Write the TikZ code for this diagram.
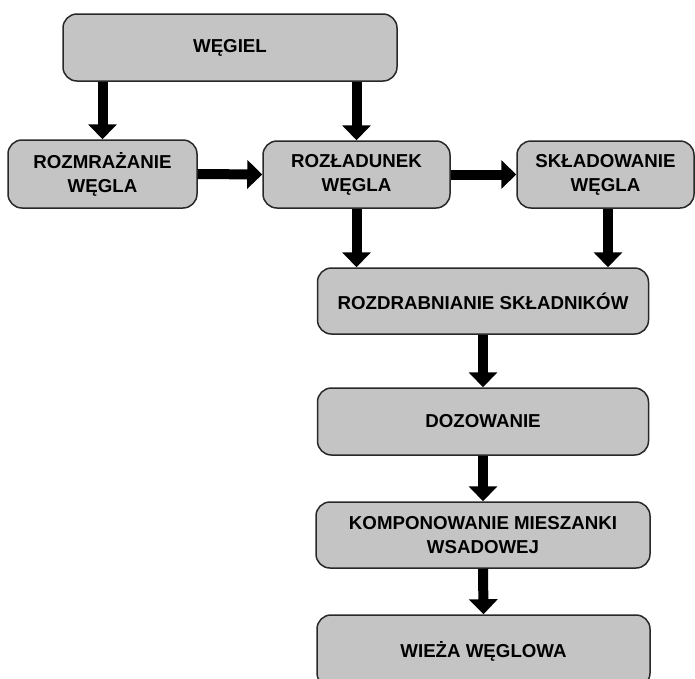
\documentclass[tikz,border=0pt]{standalone}
\usepackage{fontspec}
\setmainfont{Liberation Sans}
\usetikzlibrary{arrows.meta}
\definecolor{boxgray}{RGB}{196,196,196}
\definecolor{boxline}{RGB}{40,40,40}
\tikzset{
  stage/.style={draw=boxline, line width=1.5pt, fill=boxgray, rounded corners=14pt,
    inner sep=0pt, align=center, font=\fontsize{18.7}{24}\selectfont\bfseries},
  flow/.style={line width=10pt, -{Triangle[length=15pt,width=28pt]}}
}
\begin{document}
\begin{tikzpicture}[x=1pt,y=-1pt]
\useasboundingbox (0,0) rectangle (695,678);

\node[stage, minimum width=334pt, minimum height=67pt] (wegiel) at (230,47.5) {WĘGIEL};
\node[stage, minimum width=189pt, minimum height=68pt] (rozm) at (102.5,174) {ROZMRAŻANIE\\WĘGLA};
\node[stage, minimum width=187pt, minimum height=67pt] (rozl) at (356.5,174.5) {ROZŁADUNEK\\WĘGLA};
\node[stage, minimum width=177pt, minimum height=67pt] (skl) at (605.5,174.5) {SKŁADOWANIE\\WĘGLA};
\node[stage, minimum width=331pt, minimum height=66pt] (rozd) at (483,301) {ROZDRABNIANIE SKŁADNIKÓW};
\node[stage, minimum width=331pt, minimum height=67pt] (doz) at (483,421.5) {DOZOWANIE};
\node[stage, minimum width=334pt, minimum height=66pt] (komp) at (483,535) {KOMPONOWANIE MIESZANKI\\WSADOWEJ};
\node[stage, minimum width=333pt, minimum height=72pt] (wieza) at (483.5,651) {WIEŻA WĘGLOWA};

\draw[flow] (wegiel.south -| rozm.north) -- (rozm.north);
\draw[flow] (wegiel.south -| rozl.north) -- (rozl.north);
\draw[flow] (rozm.east) -- (rozl.west);
\draw[flow] (rozl.east) -- (skl.west);
\draw[flow] (rozl.south) -- (rozl.south |- rozd.north);
\draw[flow] ([xshift=2.5pt]skl.south) -- ([xshift=2.5pt]skl.south |- rozd.north);
\draw[flow] (rozd.south) -- (doz.north);
\draw[flow] (doz.south) -- (komp.north);
\draw[flow] (komp.south) -- (wieza.north);
\end{tikzpicture}
\end{document}
